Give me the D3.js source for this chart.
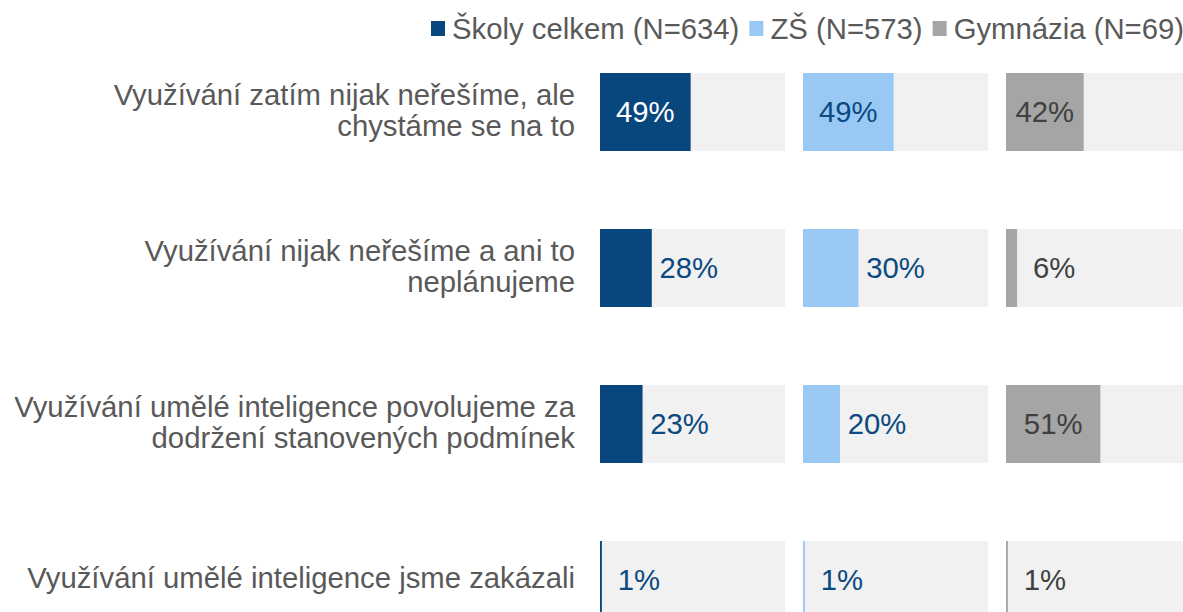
<!DOCTYPE html>
<html>
<head>
<meta charset="utf-8">
<script src="https://cdn.jsdelivr.net/npm/d3@7"></script>
<style>
    body { margin: 0; background: #fff; }
    text { font-family: "Liberation Sans", Arial, sans-serif; }
</style>
</head>
<body>
<svg id="chart"></svg>
<script>
let width = 1183;
let height = 612;

// data
const categories = [
    ["Využívání zatím nijak neřešíme, ale", "chystáme se na to"],
    ["Využívání nijak neřešíme a ani to", "neplánujeme"],
    ["Využívání umělé inteligence povolujeme za", "dodržení stanovených podmínek"],
    ["Využívání umělé inteligence jsme zakázali"]
];
const seriesNames = ["Školy celkem (N=634)", "ZŠ (N=573)", "Gymnázia (N=69)"];
const skolyCelkem = [49, 28, 23, 1];
const zs = [49, 30, 20, 1];
const gymnazia = [42, 6, 51, 1];

const seriesValues = [skolyCelkem, zs, gymnazia];
const barColors = ["#08477E", "#99C8F5", "#A5A5A5"];
const insideText = ["#FFFFFF", "#0B4A80", "#404040"];
const outsideText = ["#0B4A80", "#0B4A80", "#404040"];
const fontSize = "29.3px";

let svg = d3.select("#chart")
    .attr("width", width)
    .attr("height", height);

let panels = d3.scaleBand()
    .domain(d3.range(seriesNames.length))
    .range([600, 1191])
    .paddingInner(0.0887)
    .paddingOuter(0);

let y = d3.scaleBand()
    .domain(d3.range(categories.length))
    .range([73, 619])
    .paddingInner(0.5)
    .paddingOuter(0);

let x = d3.scaleLinear()
    .domain([0, 100])
    .range([0, panels.bandwidth()]);

// category labels
let labels = svg.append("g").selectAll("text")
    .data(categories)
    .enter().append("text")
    .attr("text-anchor", "end")
    .style("font-size", fontSize)
    .style("fill", "#595959")
    .attr("transform", (d, i) => `translate(575, ${y(i) + y.bandwidth() / 2 - 2})`);

labels.selectAll("tspan")
    .data(d => d.map((line, j) => ({line: line, j: j, n: d.length})))
    .enter().append("tspan")
    .attr("x", 0)
    .attr("y", d => (d.j - (d.n - 1) / 2) * 31)
    .attr("dy", "0.35em")
    .text(d => d.line);

// panels
seriesValues.forEach(function(values, s) {
    let g = svg.append("g")
        .attr("transform", `translate(${panels(s)}, 0)`);

    g.selectAll("rect.bg")
        .data(values)
        .enter().append("rect")
        .attr("class", "bg")
        .attr("x", x(0))
        .attr("y", (d, i) => y(i))
        .attr("width", x(100))
        .attr("height", y.bandwidth())
        .style("fill", "#F1F1F1");

    g.selectAll("rect.bar")
        .data(values)
        .enter().append("rect")
        .attr("class", "bar")
        .attr("x", x(0))
        .attr("y", (d, i) => y(i))
        .attr("width", d => x(d))
        .attr("height", y.bandwidth())
        .style("fill", barColors[s]);

    g.selectAll("text.val")
        .data(values)
        .enter().append("text")
        .attr("class", "val")
        .attr("x", d => d >= 40 ? x(d) / 2 : x(d) + 37)
        .attr("y", (d, i) => y(i) + y.bandwidth() / 2)
        .attr("dy", "0.35em")
        .attr("text-anchor", "middle")
        .style("font-size", fontSize)
        .style("fill", d => d >= 40 ? insideText[s] : outsideText[s])
        .text(d => d + "%");
});

// legend
let legend = svg.append("g").attr("transform", "translate(431, 28.5)");
let lx = 0;
seriesNames.forEach(function(name, s) {
    let item = legend.append("g").attr("transform", `translate(${lx}, 0)`);
    item.append("rect")
        .attr("x", 0)
        .attr("y", -7.5)
        .attr("width", 14)
        .attr("height", 15)
        .style("fill", barColors[s]);
    let t = item.append("text")
        .attr("x", 21)
        .attr("dy", "0.35em")
        .style("font-size", fontSize)
        .style("fill", "#595959")
        .text(name);
    lx += 21 + t.node().getComputedTextLength() + 10;
});
</script>
</body>
</html>
